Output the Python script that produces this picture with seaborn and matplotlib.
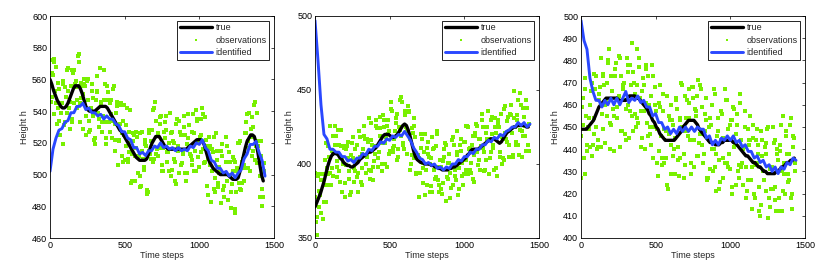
import numpy as np
import pandas as pd
import matplotlib
matplotlib.use('Agg')
import matplotlib.pyplot as plt
import seaborn as sns

# true curve, sampled every 12 time steps
true_1 = [560, 557, 553, 550, 547, 545, 543, 542, 542, 543, 545, 548, 551, 554, 556, 556, 556, 554, 551, 547,
          543, 541, 540, 540, 540, 540, 541, 542, 543, 543, 543, 543, 542, 540, 538, 536, 534, 532, 530, 528,
          527, 525, 523, 521, 519, 517, 515, 513, 511, 510, 509, 509, 509, 509, 510, 513, 517, 520, 522, 524,
          524, 524, 522, 520, 518, 517, 516, 516, 516, 516, 516, 516, 516, 516, 516, 516, 516, 517, 518, 519,
          520, 521, 522, 522, 522, 521, 519, 515, 511, 508, 506, 504, 503, 502, 501, 500, 500, 500, 500, 500,
          499, 498, 497, 497, 497, 498, 502, 507, 512, 517, 521, 523, 525, 525, 524, 520, 514, 507, 500, 496]
true_2 = [371, 374, 377, 380, 384, 388, 393, 398, 402, 405, 407, 407, 407, 406, 404, 403, 401, 400, 399, 399,
          398, 398, 399, 400, 401, 403, 404, 405, 406, 407, 408, 408, 409, 410, 411, 413, 415, 417, 419, 420,
          420, 420, 419, 418, 418, 419, 420, 422, 424, 426, 427, 426, 423, 419, 414, 409, 405, 403, 402, 401,
          401, 400, 400, 400, 400, 399, 399, 398, 398, 397, 397, 396, 396, 396, 396, 397, 397, 398, 398, 399,
          400, 401, 402, 403, 404, 406, 407, 409, 410, 410, 410, 410, 411, 412, 413, 414, 415, 416, 417, 417,
          417, 416, 415, 414, 415, 417, 419, 421, 422, 423, 424, 425, 425, 426, 426, 426, 426, 426, 425, 425]
true_3 = [449, 449, 449, 449, 450, 451, 452, 453, 455, 457, 459, 460, 461, 462, 463, 463, 463, 463, 463, 463,
          463, 462, 462, 462, 462, 462, 463, 464, 464, 464, 464, 463, 463, 462, 461, 460, 459, 458, 456, 455,
          453, 452, 450, 449, 447, 446, 445, 444, 444, 444, 444, 444, 444, 445, 446, 447, 448, 450, 451, 452,
          453, 453, 453, 453, 452, 451, 449, 448, 447, 446, 445, 444, 443, 443, 443, 442, 442, 442, 443, 443,
          444, 444, 444, 444, 444, 443, 443, 442, 441, 440, 439, 438, 437, 437, 436, 435, 434, 434, 433, 432,
          432, 431, 430, 430, 429, 429, 429, 429, 429, 430, 430, 431, 432, 432, 433, 434, 434, 435, 435, 436]

# noisy observations at time steps 0, 12, 24, ...
obs_1 = [572, 549, 573, 553, 532, 554, 539, 559, 531, 549, 567, 546, 533, 564, 557, 547, 571, 533, 556, 560,
         537, 560, 527, 542, 548, 523, 552, 539, 567, 533, 547, 523, 556, 533, 538, 554, 522, 539, 506, 544,
         526, 534, 509, 542, 514, 520, 496, 525, 517, 501, 526, 493, 510, 519, 488, 526, 513, 528, 542, 513,
         526, 517, 537, 502, 523, 528, 514, 539, 503, 520, 508, 535, 501, 525, 513, 530, 496, 523, 518, 509,
         538, 515, 534, 505, 525, 542, 507, 522, 510, 524, 483, 514, 498, 515, 492, 502, 519, 486, 508, 496,
         514, 479, 502, 508, 489, 520, 491, 508, 496, 526, 538, 517, 529, 512, 544, 518, 521, 486, 512, 486]
obs_2 = [378, 352, 393, 379, 393, 374, 414, 393, 405, 386, 419, 413, 398, 423, 388, 404, 411, 378, 412, 395,
         406, 418, 388, 402, 394, 418, 386, 410, 417, 405, 431, 395, 413, 402, 430, 398, 424, 414, 433, 400,
         426, 420, 409, 436, 412, 431, 403, 425, 445, 414, 434, 425, 439, 396, 424, 404, 418, 394, 404, 420,
         387, 408, 396, 415, 381, 404, 410, 390, 420, 386, 398, 380, 405, 413, 390, 401, 384, 418, 396, 406,
         379, 413, 392, 415, 396, 426, 410, 394, 419, 406, 427, 399, 417, 434, 411, 396, 425, 417, 408, 432,
         396, 421, 428, 408, 434, 404, 421, 429, 405, 434, 421, 449, 415, 430, 406, 440, 419, 426, 443, 413]
obs_3 = [446, 463, 429, 455, 450, 441, 470, 447, 467, 440, 462, 481, 449, 469, 462, 479, 440, 473, 458, 476,
         454, 464, 481, 448, 470, 458, 478, 445, 469, 475, 456, 485, 452, 463, 445, 469, 476, 452, 460, 442,
         473, 450, 457, 428, 459, 436, 457, 436, 464, 447, 429, 453, 440, 462, 435, 453, 470, 448, 433, 462,
         454, 444, 468, 432, 457, 464, 443, 467, 434, 448, 453, 427, 454, 440, 467, 432, 446, 422, 457, 436,
         444, 462, 432, 451, 420, 459, 442, 451, 427, 461, 434, 441, 418, 449, 442, 426, 451, 418, 434, 442,
         410, 444, 426, 438, 449, 418, 431, 422, 444, 412, 435, 442, 430, 455, 420, 438, 426, 454, 420, 445]

# noisy observations at time steps 6, 18, 30, ...
obs_1b = [546, 563, 571, 545, 558, 525, 545, 557, 533, 566, 542, 556, 535, 566, 555, 575, 545, 558, 529, 556,
          559, 534, 541, 553, 522, 547, 562, 530, 546, 537, 557, 519, 552, 545, 523, 556, 532, 543, 521, 545,
          508, 525, 531, 508, 541, 513, 521, 496, 524, 512, 499, 527, 503, 518, 489, 528, 521, 508, 546, 516,
          525, 536, 506, 527, 537, 514, 502, 526, 521, 496, 532, 515, 527, 507, 537, 501, 519, 531, 512, 527,
          502, 541, 511, 524, 535, 516, 536, 493, 517, 506, 516, 491, 526, 495, 505, 515, 490, 501, 518, 484,
          508, 494, 509, 478, 504, 520, 490, 510, 504, 533, 521, 502, 536, 530, 509, 539, 511, 521, 491, 502]
obs_2b = [361, 392, 371, 389, 363, 403, 397, 386, 426, 397, 408, 419, 391, 413, 423, 400, 387, 410, 404, 379,
          414, 397, 410, 391, 422, 388, 407, 419, 400, 415, 390, 428, 398, 412, 424, 408, 432, 395, 425, 418,
          430, 407, 442, 411, 422, 434, 410, 423, 442, 410, 436, 422, 435, 400, 421, 431, 393, 406, 394, 417,
          401, 379, 411, 405, 385, 418, 396, 412, 389, 403, 383, 402, 414, 391, 407, 377, 399, 413, 389, 422,
          397, 409, 386, 415, 403, 425, 396, 413, 388, 419, 426, 403, 412, 425, 395, 421, 436, 404, 420, 411,
          431, 392, 425, 419, 400, 437, 417, 432, 413, 440, 405, 425, 433, 413, 448, 422, 432, 409, 438, 427]
obs_3b = [459, 436, 472, 442, 454, 466, 442, 454, 473, 441, 468, 456, 473, 443, 470, 485, 451, 466, 455, 479,
          463, 441, 473, 467, 447, 481, 460, 478, 455, 470, 450, 469, 481, 457, 472, 440, 461, 473, 447, 478,
          450, 460, 434, 461, 446, 465, 434, 448, 422, 453, 460, 437, 445, 458, 428, 454, 469, 438, 454, 446,
          467, 429, 463, 458, 437, 471, 447, 459, 438, 463, 426, 444, 451, 430, 465, 438, 448, 425, 456, 445,
          434, 462, 438, 453, 423, 458, 447, 430, 465, 432, 440, 450, 421, 444, 455, 432, 420, 444, 438, 412,
          448, 430, 441, 421, 450, 414, 432, 443, 423, 438, 412, 451, 421, 434, 446, 429, 451, 413, 441, 434]

# noisy observations at time steps 3, 15, 27, ...
obs_1c = [558, 564, 538, 568, 542, 534, 545, 519, 555, 539, 553, 529, 566, 545, 559, 542, 576, 548, 551, 557,
          525, 547, 528, 557, 537, 519, 553, 535, 544, 527, 566, 533, 547, 527, 547, 534, 515, 546, 522, 532,
          512, 544, 518, 510, 527, 495, 526, 512, 527, 501, 492, 515, 505, 522, 490, 515, 510, 541, 510, 534,
          512, 532, 502, 517, 533, 508, 520, 499, 527, 510, 494, 518, 534, 506, 515, 525, 501, 538, 513, 506,
          526, 502, 535, 520, 514, 538, 508, 518, 487, 518, 502, 524, 489, 509, 501, 482, 512, 493, 524, 484,
          500, 489, 511, 476, 502, 495, 521, 495, 506, 526, 504, 539, 524, 515, 546, 507, 518, 499, 480, 507]
obs_2c = [394, 364, 382, 367, 393, 386, 374, 412, 394, 409, 392, 426, 402, 395, 412, 381, 412, 399, 415, 390,
          381, 404, 395, 413, 381, 405, 397, 426, 394, 417, 396, 416, 389, 407, 426, 404, 419, 400, 430, 414,
          398, 422, 437, 408, 417, 428, 405, 443, 419, 413, 433, 407, 436, 417, 406, 426, 394, 406, 378, 411,
          397, 420, 386, 407, 400, 381, 411, 391, 422, 381, 398, 387, 410, 375, 401, 394, 416, 386, 392, 408,
          383, 417, 401, 393, 426, 393, 411, 401, 390, 421, 408, 417, 396, 430, 408, 403, 417, 393, 430, 413,
          425, 397, 430, 405, 418, 403, 439, 415, 422, 433, 406, 431, 413, 443, 423, 405, 438, 419, 426, 409]
obs_3c = [427, 451, 467, 439, 449, 460, 437, 474, 450, 444, 465, 441, 474, 460, 455, 480, 452, 466, 439, 473,
          459, 482, 448, 469, 462, 444, 475, 457, 488, 448, 465, 454, 477, 441, 466, 457, 478, 446, 450, 464,
          436, 468, 449, 439, 469, 433, 449, 436, 424, 455, 442, 451, 429, 463, 441, 436, 450, 427, 464, 448,
          461, 434, 468, 444, 455, 437, 469, 442, 447, 456, 427, 450, 431, 460, 440, 421, 454, 435, 444, 427,
          467, 434, 449, 431, 453, 441, 424, 456, 433, 444, 424, 457, 432, 426, 444, 413, 445, 433, 449, 423,
          415, 437, 426, 443, 409, 431, 422, 450, 417, 440, 418, 439, 412, 429, 448, 425, 438, 418, 446, 430]

# identified estimate, every 20 time steps
ident_1 = [502, 516, 523, 528, 529, 533, 534, 539, 539, 543, 543, 545, 541, 542, 539, 539, 537, 538, 535, 537,
           535, 535, 532, 531, 527, 527, 523, 522, 517, 517, 513, 514, 512, 515, 515, 518, 517, 520, 517, 518,
           516, 517, 515, 517, 515, 516, 515, 518, 517, 520, 519, 522, 517, 515, 509, 508, 504, 504, 501, 502,
           499, 501, 498, 501, 503, 510, 513, 519, 519, 521, 514, 509, 499]
ident_2 = [497, 470, 440, 420, 417, 410, 410, 408, 408, 405, 405, 402, 403, 401, 404, 404, 407, 406, 410, 409,
           412, 412, 415, 414, 417, 416, 419, 418, 420, 419, 422, 419, 416, 411, 408, 404, 403, 400, 401, 399,
           400, 397, 398, 396, 398, 397, 400, 400, 403, 402, 405, 405, 408, 407, 410, 410, 413, 413, 416, 415,
           418, 417, 420, 419, 422, 423, 425, 425, 428, 426, 428, 425, 427]
ident_3 = [498, 489, 485, 472, 466, 462, 462, 459, 462, 460, 463, 460, 463, 460, 463, 466, 461, 463, 462, 464,
           461, 462, 459, 459, 455, 456, 452, 452, 449, 450, 447, 449, 447, 450, 448, 450, 448, 450, 448, 450,
           449, 449, 445, 446, 442, 444, 442, 445, 444, 446, 444, 446, 443, 444, 441, 442, 439, 439, 436, 437,
           434, 435, 432, 433, 430, 432, 429, 432, 431, 434, 433, 436, 435]

y_limits = [(460, 600), (350, 500), (400, 500)]
y_steps = [20, 50, 10]

sns.set_theme(style="white")
plt.rcParams['font.family'] = ['Liberation Sans', 'DejaVu Sans']

fig = plt.figure(figsize=(8.3, 2.78), dpi=100)
lefts = [50 / 830, 315 / 830, 581 / 830]

panels = [(true_1, [obs_1, obs_1b, obs_1c], ident_1),
          (true_2, [obs_2, obs_2b, obs_2c], ident_2),
          (true_3, [obs_3, obs_3b, obs_3c], ident_3)]
offsets = [0, 6, 3]
for i, (tr, obs_sets, idn) in enumerate(panels):
    ax = fig.add_axes([lefts[i], 40 / 278, 224 / 830, 222 / 278])
    t_true = np.arange(len(tr)) * 12
    t_obs = np.concatenate([np.arange(len(o)) * 12 + off for o, off in zip(obs_sets, offsets)])
    y_obs = np.concatenate(obs_sets)
    t_id = np.arange(len(idn)) * 20

    sns.lineplot(x=t_true, y=tr, ax=ax, color='black', lw=2.4, label='true', estimator=None)
    sns.scatterplot(x=t_obs, y=y_obs, ax=ax, color='#78f000', s=5, marker='s', linewidth=0,
                    label='observations', zorder=1)
    sns.lineplot(x=t_id, y=idn, ax=ax, color='#2a48ff', lw=2.1, label='identified', estimator=None)

    ax.set_xlim(0, 1500)
    ax.set_ylim(*y_limits[i])
    ax.set_xticks([0, 500, 1000, 1500])
    ax.set_yticks(np.arange(y_limits[i][0], y_limits[i][1] + 1, y_steps[i]))
    ax.tick_params(direction='in', top=True, right=True, length=2.5, width=0.5,
                   labelsize=6.5, pad=2, colors='black')
    for sp in ax.spines.values():
        sp.set_color('black')
        sp.set_linewidth(0.6)
    ax.set_xlabel('Time steps', fontsize=6.5, labelpad=1)
    ax.set_ylabel('Height h', fontsize=6.5, labelpad=2)

    leg = ax.legend(loc='upper right', fontsize=6.5, frameon=True, fancybox=False, framealpha=1,
                    edgecolor='black', handlelength=3.6, borderaxespad=0.5, borderpad=0.3,
                    labelspacing=0.4, handletextpad=0.4, markerscale=0.5)
    leg.get_frame().set_linewidth(0.6)

fig.savefig('out.png', dpi=100)
